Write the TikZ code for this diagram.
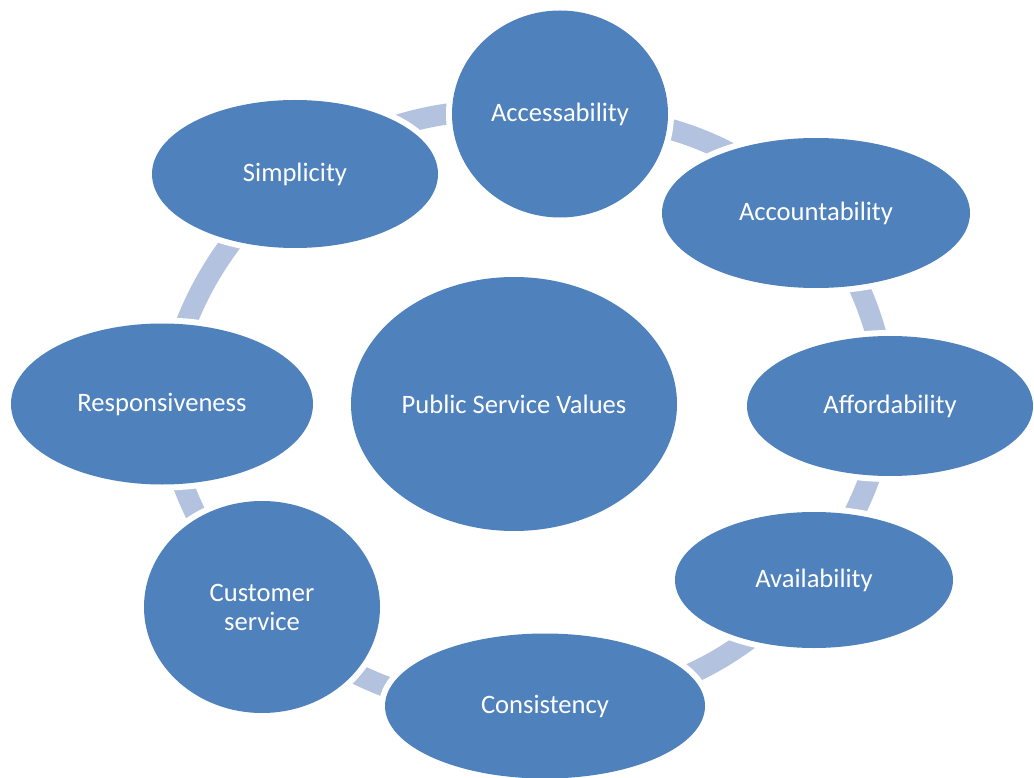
\documentclass[tikz,border=0pt]{standalone}
\usepackage{fontspec}
\setmainfont{Carlito}
\usetikzlibrary{shapes.geometric,backgrounds}
\definecolor{nodeblue}{RGB}{79,129,189}
\definecolor{ringblue}{RGB}{179,195,223}
\tikzset{
  val/.style={ellipse, fill=nodeblue, inner sep=0pt, text=white,
    font=\fontsize{26.6}{29}\selectfont, align=center,
    preaction={draw=white, line width=12pt}},
  ring/.style={draw=ringblue, line width=21pt, line cap=butt}
}
\begin{document}
\begin{tikzpicture}[x=1pt,y=-1pt]
\useasboundingbox (0,0) rectangle (1034,778);
\clip (0,0) rectangle (1034,778);
\node[val, minimum width=216pt, minimum height=207pt] (acc) at (560,114) {Accessability};
\node[val, minimum width=308pt, minimum height=150pt] (accnt) at (816,213) {Accountability};
\node[val, minimum width=286pt, minimum height=140pt] (aff) at (890,406) {Affordability};
\node[val, minimum width=278pt, minimum height=136pt] (avail) at (814,580) {Availability};
\node[val, minimum width=320pt, minimum height=145pt] (cons) at (545,706) {Consistency};
\node[val, minimum width=236pt, minimum height=212pt] (cust) at (262,607) {Customer\\service};
\node[val, minimum width=302pt, minimum height=161pt] (resp) at (162,404) {Responsiveness};
\node[val, minimum width=286pt, minimum height=148pt] (simp) at (295,174) {Simplicity};
\node[val, minimum width=326pt, minimum height=254pt] (psv) at (514,404) {Public Service Values};
\begin{pgfonlayer}{background}
\draw[ring] (acc.center) to[bend left=19.5] (accnt.center);
\draw[ring] (accnt.center) to[bend left=13.5] (aff.center);
\draw[ring] (aff.center) to[bend left=11] (avail.center);
\draw[ring] (avail.center) to[bend left=22] (cons.center);
\draw[ring] (cons.center) to[bend left=23] (cust.center);
\draw[ring] (cust.center) to[bend left=16] (resp.center);
\draw[ring] (resp.center) to[bend left=17.5] (simp.center);
\draw[ring] (simp.center) to[bend left=19] (acc.center);
\end{pgfonlayer}
\end{tikzpicture}
\end{document}
